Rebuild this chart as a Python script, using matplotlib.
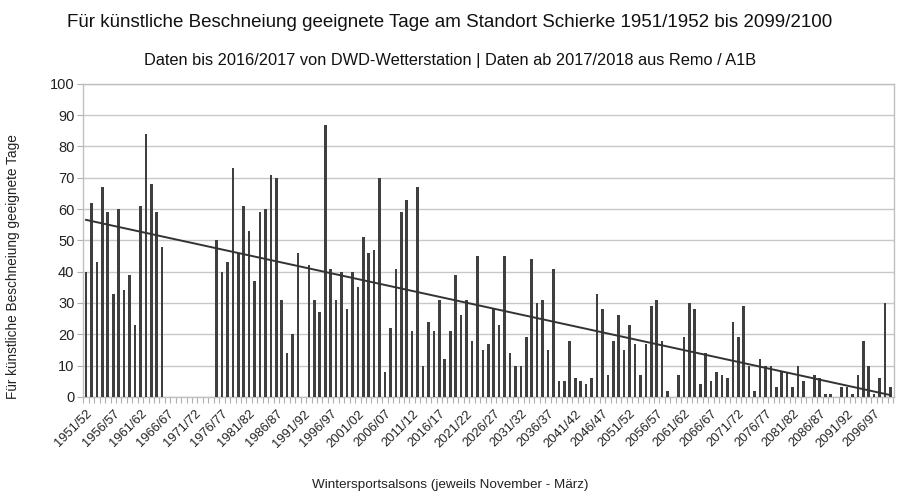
import numpy as np
import matplotlib
matplotlib.use("Agg")
import matplotlib.pyplot as plt
from matplotlib.ticker import MultipleLocator, FixedLocator

plt.rcParams['font.family'] = ['Liberation Sans', 'DejaVu Sans']

start_years = list(range(1951, 2100))
seasons = [f"{y}/{str(y + 1)[-2:]}" if y != 2099 else "2099/2100" for y in start_years]

N = None
days = [40, 62, 43, 67, 59, 33, 60, 34, 39, 23, 61, 84, 68, 59, 48,
        N, N, N, N, N, N, N, N, N,
        50,
        40, 43, 73, 46, 61, 53, 37, 59, 60, 71, 70, 31, 14, 20, 46,
        N,
        42, 31, 27, 87, 41, 31, 40, 28, 40, 35, 51, 46, 47, 70, 8,
        22, 41, 59, 63, 21, 67, 10, 24, 21, 31,
        12, 21, 39, 26, 31, 18, 45, 15, 17, 28,
        23, 45, 14, 10, 10, 19, 44, 30, 31,
        15, 41, 5, 5, 18, 6, 5, 4, 6, 33,
        28, 7, 18, 26, 15, 23, 17, 7, 17, 29,
        31, 18, 2, 0, 7, 19, 30, 28, 4,
        14, 5, 8, 7, 6, 24, 19, 29, 10, 2,
        12, 10, 10, 3, 8, 8, 3, 10, 5, 0,
        7, 6, 1, 1, 0, 3, 3, 1, 7, 18,
        10, 1, 6, 30, 3]

title = "Für künstliche Beschneiung geeignete Tage am Standort Schierke 1951/1952 bis 2099/2100"
subtitle = "Daten bis 2016/2017 von DWD-Wetterstation | Daten ab 2017/2018 aus Remo / A1B"
xlabel = "Wintersportsalsons (jeweils November - März)"
ylabel = "Für künstliche Beschneiung geeignete Tage"

vals = np.array([np.nan if v is None else v for v in days], dtype=float)
x = np.arange(len(seasons))

fig = plt.figure(figsize=(9.0, 4.93), dpi=100)
ax = fig.add_axes([0.092, 0.195, 0.901, 0.635])

bar_color = "#3f3f3f"
ax.bar(x, np.nan_to_num(vals), width=0.48, color=bar_color, zorder=3)

# linear trend
mask = ~np.isnan(vals)
k, d = np.polyfit(x[mask], vals[mask], 1)
ax.plot([x[0], x[-1]], [k * x[0] + d, k * x[-1] + d], color="#333333", lw=1.4, zorder=4)

ax.set_xlim(-0.6, len(x) - 0.4)
ax.set_ylim(0, 100)
ax.yaxis.set_major_locator(MultipleLocator(10))
ax.grid(axis='y', color="#c8c8c8", lw=1.0, zorder=0)

label_pos = x[::5]
ax.set_xticks(label_pos)
ax.set_xticklabels([seasons[i] for i in label_pos], rotation=45, ha='right',
                   rotation_mode='anchor', fontsize=9.3, color="#222222")
ax.xaxis.set_minor_locator(FixedLocator(np.arange(-0.5, len(x), 1.0)))
ax.tick_params(axis='x', which='major', length=0, pad=8)
ax.tick_params(axis='x', which='minor', length=4, color="#b0b0b0", width=0.8)
ax.tick_params(axis='y', length=4, color="#b0b0b0", labelsize=10.5, labelcolor="#222222", pad=2)

for s in ax.spines.values():
    s.set_color("#c0c0c0")
    s.set_linewidth(1.0)

fig.text(0.5, 0.955, title, ha='center', va='center', fontsize=13.5, color="#111111")
fig.text(0.5, 0.878, subtitle, ha='center', va='center', fontsize=11.8, color="#111111")
fig.text(0.5, 0.016, xlabel, ha='center', va='center', fontsize=9.7, color="#222222")
fig.text(0.014, 0.46, ylabel, ha='center', va='center', rotation=90, fontsize=9.8, color="#222222")

fig.savefig("out.png", dpi=100)
